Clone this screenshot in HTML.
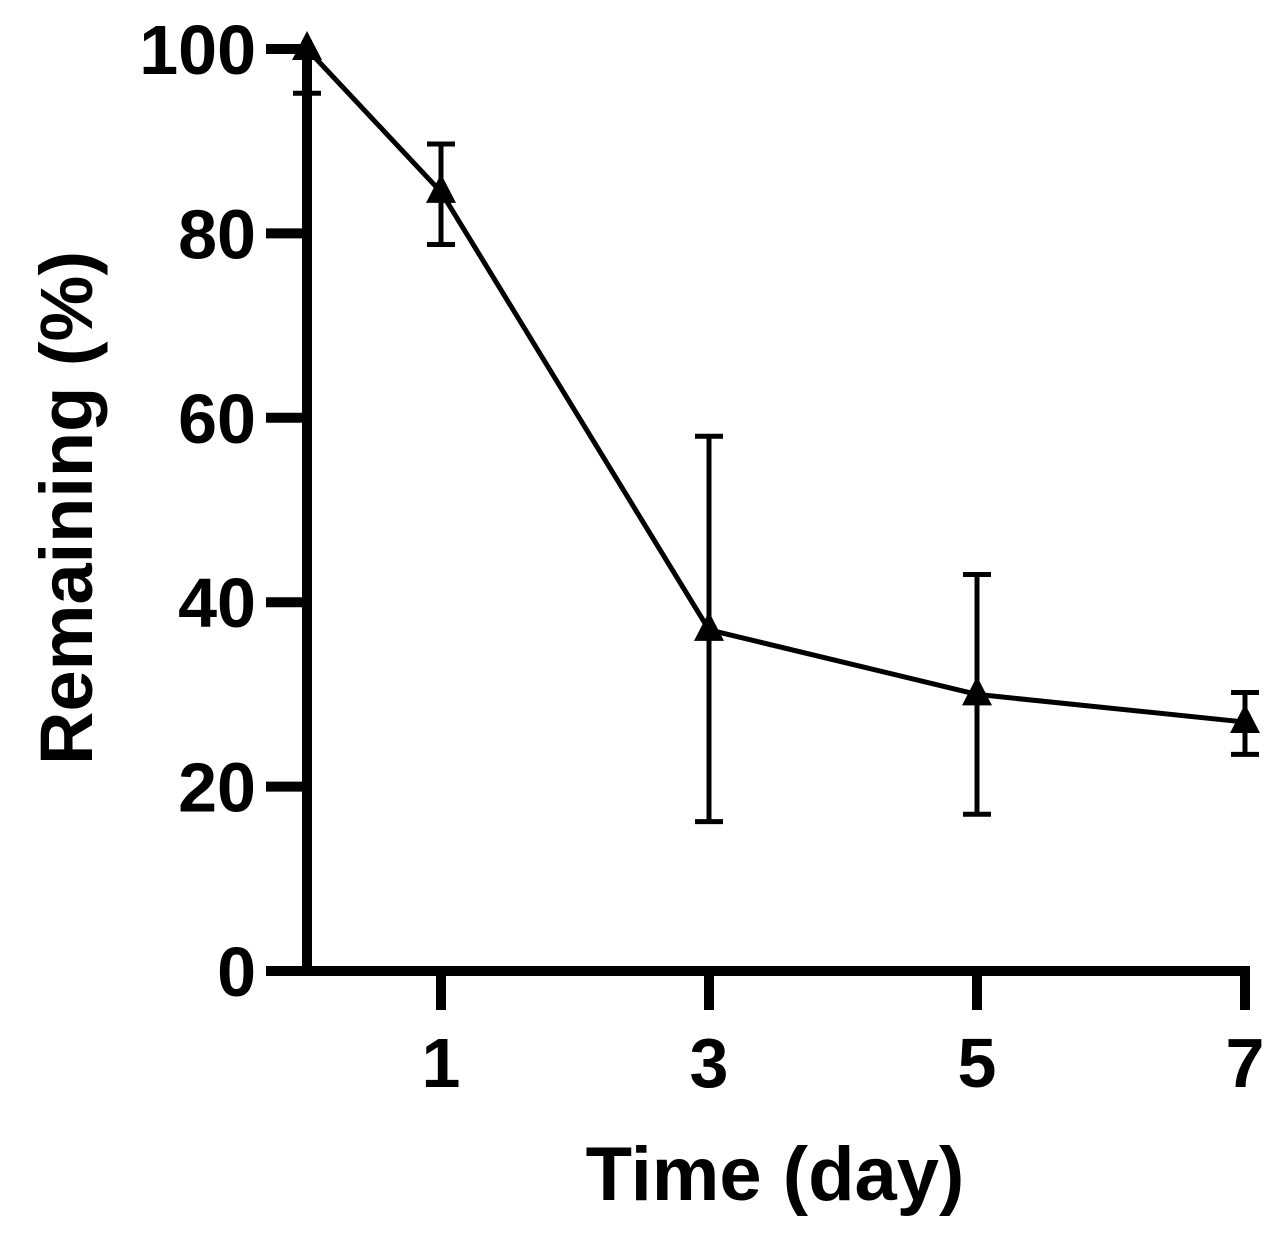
<!DOCTYPE html>
<html><head><meta charset="utf-8"><style>
html,body{margin:0;padding:0;background:#fff;}
svg{display:block;font-family:"Liberation Sans",Arial,sans-serif;font-weight:bold;}
</style></head><body>
<svg id="chart" width="1281" height="1244" viewBox="0 0 1281 1244" xmlns="http://www.w3.org/2000/svg">
<g id="axes"></g>
<g id="marks"></g>
<text x="775" y="1200" font-size="76" text-anchor="middle">Time (day)</text>
<text transform="translate(92,508) rotate(-90)" font-size="74" text-anchor="middle">Remaining (%)</text>
</svg>
<script>
const days = [0, 1, 3, 5, 7];
const remaining = [100, 84.5, 37, 30, 27];
const errLow = [95.2, 78.8, 16.2, 17, 23.5];
const errHigh = [100, 89.7, 58, 43, 30.2];
const yTicks = [0, 20, 40, 60, 80, 100];
const xTicks = [1, 3, 5, 7];

const NS = "http://www.w3.org/2000/svg";
const xs = d => 307 + d * 134.0;
const ys = v => 971 - v * 9.22;
function mk(tag, attrs, parent) {
  const e = document.createElementNS(NS, tag);
  for (const k in attrs) e.setAttribute(k, attrs[k]);
  parent.appendChild(e);
  return e;
}
const axes = document.getElementById('axes');
const marks = document.getElementById('marks');

let l = mk('line', {x1: 307, y1: 40, x2: 307, y2: 976, stroke: '#000', 'stroke-width': 10}, axes);


l = mk('line', {x1: 266, y1: 971, x2: 1250, y2: 971, stroke: '#000', 'stroke-width': 10}, axes);



yTicks.forEach(v => {
  const t = mk('line', {x1: 266, y1: ys(v), x2: 307, y2: ys(v), stroke: '#000', 'stroke-width': 10}, axes);
  
  
  const tx = mk('text', {x: 256, y: ys(v) + 25, 'font-size': 70, 'text-anchor': 'end'}, axes);
  tx.textContent = v;
  
  
});
xTicks.forEach(d => {
  const t = mk('line', {x1: xs(d), y1: 966, x2: xs(d), y2: 1010, stroke: '#000', 'stroke-width': 10}, axes);
  
  
  const tx = mk('text', {x: xs(d), y: 1087, 'font-size': 70, 'text-anchor': 'middle'}, axes);
  tx.textContent = d;
  
  
});

const pts = days.map((d, i) => xs(d) + ',' + ys(remaining[i])).join(' ');
const pl = mk('polyline', {points: pts, fill: 'none', stroke: '#000', 'stroke-width': 5, 'stroke-linejoin': 'round'}, marks);



days.forEach((d, i) => {
  const x = xs(d);
  const g = mk('g', {}, marks);
  
  
  mk('line', {x1: x, y1: ys(errLow[i]), x2: x, y2: ys(errHigh[i]), stroke: '#000', 'stroke-width': 5}, g);
  mk('line', {x1: x - 14, y1: ys(errLow[i]), x2: x + 14, y2: ys(errLow[i]), stroke: '#000', 'stroke-width': 5}, g);
  if (errHigh[i] > remaining[i]) mk('line', {x1: x - 14, y1: ys(errHigh[i]), x2: x + 14, y2: ys(errHigh[i]), stroke: '#000', 'stroke-width': 5}, g);
  const y = ys(remaining[i]);
  const tri = mk('polygon', {points: `${x},${y - 18} ${x - 15},${y + 11} ${x + 15},${y + 11}`, fill: '#000'}, marks);
  
  
});
</script>
</body></html>
